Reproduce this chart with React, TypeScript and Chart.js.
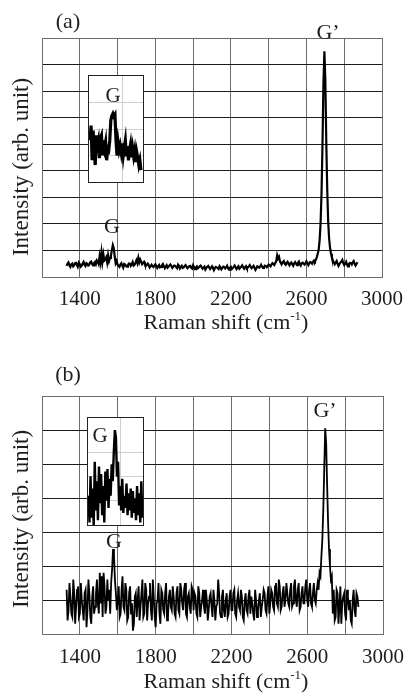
import React, { useEffect, useRef } from 'react';
import { Chart, registerables } from 'chart.js';

Chart.register(...registerables);

const SERIF = '"Liberation Serif", "Times New Roman", Times, serif';
const INK = '#1e1e1e';
const GRID_V = '#6c6c6c';
const GRID_H = '#1a1a1a';
const EDGE = '#6c6c6c';

// ---- x axis (Raman shift, cm^-1) ----
const X_MIN = 1200;
const X_MAX = 3000;
const X_STEP = 200;
const X_TICK_LABELS = [1400, 1800, 2200, 2600, 3000];

// ---- panel (a) spectrum (main samples) ----
const A_SHIFT = [
  1330, 1340, 1350, 1360, 1370, 1380, 1390, 1400, 1410, 1420, 1430, 1440, 1450, 1460, 1470,
  1480, 1490, 1500, 1505, 1510, 1515, 1520, 1525, 1530, 1540, 1545, 1550, 1555, 1560, 1565, 1570, 1575, 1580, 1585, 1590,
  1600, 1610, 1620, 1630, 1640, 1650, 1660, 1670, 1680, 1690, 1700, 1705, 1710, 1715, 1720, 1730, 1740, 1750, 1760, 1770, 1780, 1790, 1800,
  1810, 1820, 1830, 1840, 1850, 1860, 1870, 1880, 1890, 1900, 1910, 1920, 1930, 1940, 1950, 1960, 1970, 1980, 1990, 2000, 2010, 2020, 2030, 2040, 2050, 2060, 2070, 2080, 2090, 2100,
  2110, 2120, 2130, 2140, 2150, 2160, 2170, 2180, 2190, 2200, 2210, 2220, 2230, 2240, 2250, 2260, 2270, 2280, 2290, 2300, 2310, 2320, 2330, 2340, 2350, 2360, 2370, 2380, 2390, 2400, 2410, 2420, 2430, 2440,
  2445, 2450, 2460, 2470, 2480, 2490, 2500, 2510, 2520, 2530, 2540, 2550, 2560, 2570, 2580, 2590, 2600, 2610, 2620, 2630, 2640,
  2650, 2655, 2660, 2665, 2670, 2675, 2680, 2685, 2690, 2695, 2700, 2705, 2710, 2715, 2720, 2725, 2730, 2735, 2740,
  2750, 2760, 2770, 2780, 2790, 2800, 2810, 2820, 2830, 2840, 2850, 2860, 2870,
];
const A_INTENSITY = [
  0.42, 0.55, 0.38, 0.50, 0.44, 0.53, 0.40, 0.48, 0.43, 0.57, 0.41, 0.50, 0.46, 0.58, 0.44,
  0.56, 0.63, 0.49, 0.78, 0.56, 0.92, 0.58, 0.85, 0.62, 0.74, 0.55, 0.82, 0.60, 0.72, 0.80, 1.02, 1.20, 1.08, 0.78, 0.52,
  0.47, 0.38, 0.52, 0.35, 0.47, 0.39, 0.51, 0.42, 0.56, 0.46, 0.63, 0.52, 0.72, 0.55, 0.66, 0.48, 0.57, 0.42, 0.50, 0.36, 0.46, 0.37, 0.48,
  0.34, 0.45, 0.38, 0.49, 0.33, 0.44, 0.39, 0.47, 0.34, 0.43, 0.37, 0.46, 0.32, 0.42, 0.36, 0.45, 0.33, 0.41, 0.35, 0.44, 0.30, 0.40, 0.36, 0.43, 0.31, 0.39, 0.34, 0.42, 0.30, 0.40,
  0.26, 0.38, 0.33, 0.41, 0.29, 0.39, 0.32, 0.42, 0.28, 0.38, 0.34, 0.43, 0.30, 0.40, 0.35, 0.44, 0.31, 0.41, 0.36, 0.45, 0.33, 0.42, 0.27, 0.40, 0.35, 0.46, 0.34, 0.43, 0.37, 0.47, 0.40, 0.52, 0.45, 0.60,
  0.82, 0.70, 0.58, 0.50, 0.60, 0.46, 0.57, 0.44, 0.55, 0.42, 0.56, 0.45, 0.58, 0.43, 0.54, 0.47, 0.59, 0.45, 0.56, 0.50, 0.62,
  0.66, 0.75, 0.88, 1.05, 1.40, 2.05, 3.20, 5.00, 7.30, 8.50, 7.40, 5.10, 3.30, 2.10, 1.45, 1.10, 0.88, 0.72, 0.62,
  0.48, 0.60, 0.42, 0.55, 0.64, 0.45, 0.57, 0.40, 0.53, 0.47, 0.60, 0.43, 0.56,
];
// ---- panel (a) spectrum (in-between samples) ----
const A_SHIFT_MID = [
  1335, 1345, 1355, 1365, 1375, 1385, 1395, 1405, 1415, 1425, 1435, 1445, 1455, 1465, 1475, 1485, 1495,
  1535,
  1595, 1605, 1615, 1625, 1635, 1645, 1655, 1665, 1675, 1685, 1695,
  1725, 1735, 1745, 1755, 1765, 1775, 1785, 1795,
  1805, 1815, 1825, 1835, 1845, 1855, 1865, 1875, 1885, 1895,
  1905, 1915, 1925, 1935, 1945, 1955, 1965, 1975, 1985, 1995,
  2005, 2015, 2025, 2035, 2045, 2055, 2065, 2075, 2085, 2095,
  2105, 2115, 2125, 2135, 2145, 2155, 2165, 2175, 2185, 2195,
  2205, 2215, 2225, 2235, 2245, 2255, 2265, 2275, 2285, 2295,
  2305, 2315, 2325, 2335, 2345, 2355, 2365, 2375, 2385, 2395,
  2405, 2415, 2425, 2435,
  2455, 2465, 2475, 2485, 2495, 2505, 2515, 2525, 2535, 2545, 2555, 2565, 2575, 2585, 2595, 2605, 2615, 2625, 2635, 2645,
  2745, 2755, 2765, 2775, 2785, 2795, 2805, 2815, 2825, 2835, 2845, 2855, 2865,
];
const A_INTENSITY_MID = [
  0.50, 0.44, 0.47, 0.40, 0.52, 0.45, 0.54, 0.39, 0.51, 0.46, 0.52, 0.43, 0.55, 0.49, 0.52, 0.48, 0.58,
  0.66,
  0.60, 0.42, 0.47, 0.43, 0.49, 0.41, 0.45, 0.50, 0.48, 0.43, 0.54,
  0.58, 0.53, 0.47, 0.46, 0.44, 0.41, 0.40, 0.43,
  0.41, 0.40, 0.36, 0.44, 0.41, 0.38, 0.35, 0.43, 0.41, 0.39,
  0.42, 0.33, 0.40, 0.38, 0.34, 0.41, 0.39, 0.37, 0.42, 0.32,
  0.37, 0.36, 0.33, 0.40, 0.37, 0.35, 0.28, 0.39, 0.36, 0.35,
  0.34, 0.33, 0.36, 0.30, 0.36, 0.34, 0.37, 0.36, 0.33, 0.35,
  0.30, 0.38, 0.37, 0.35, 0.31, 0.39, 0.37, 0.36, 0.33, 0.40,
  0.38, 0.37, 0.35, 0.33, 0.38, 0.40, 0.39, 0.38, 0.41, 0.42,
  0.44, 0.47, 0.49, 0.53,
  0.76, 0.52, 0.56, 0.50, 0.53, 0.49, 0.52, 0.48, 0.51, 0.50, 0.53, 0.49, 0.52, 0.50, 0.52, 0.53, 0.51, 0.55, 0.57, 0.58,
  0.55, 0.54, 0.50, 0.49, 0.58, 0.52, 0.50, 0.47, 0.49, 0.52, 0.55, 0.50, 0.49,
];

// ---- panel (b) spectrum (main samples) ----
const B_SHIFT = [
  1330, 1340, 1350, 1360, 1370, 1380, 1390, 1400, 1410, 1420, 1430, 1440, 1450, 1460, 1470, 1480, 1490, 1500,
  1505, 1510, 1515, 1520, 1530, 1540, 1545, 1550, 1555, 1560, 1565, 1570, 1575, 1580, 1585, 1590, 1595, 1600,
  1610, 1620, 1630, 1640, 1650, 1660, 1670, 1680, 1690, 1700, 1710, 1720, 1730, 1740, 1750, 1760, 1770, 1780, 1790, 1800, 1810, 1820, 1830, 1840, 1850, 1860, 1870, 1880, 1890, 1900,
  1910, 1920, 1930, 1940, 1950, 1960, 1970, 1980, 1990, 2000, 2010, 2020, 2030, 2040, 2050, 2060, 2070, 2080, 2090, 2100, 2110, 2120, 2130, 2140, 2150, 2160, 2170, 2180, 2190, 2200,
  2210, 2220, 2230, 2240, 2250, 2260, 2270, 2280, 2290, 2300, 2310, 2320, 2330, 2340, 2350, 2360, 2370, 2380, 2390, 2400, 2410, 2420, 2430, 2440, 2450, 2460, 2470, 2480, 2490, 2500,
  2510, 2520, 2530, 2540, 2550, 2560, 2570, 2580, 2590, 2600, 2610, 2620, 2630, 2640, 2650,
  2655, 2660, 2665, 2670, 2675, 2680, 2685, 2690, 2695, 2700, 2705, 2710, 2715, 2720, 2725, 2730,
  2740, 2750, 2760, 2770, 2780, 2790, 2800, 2810, 2820, 2830, 2840, 2850, 2860, 2870,
];
const B_INTENSITY = [
  1.3, 0.7, 1.1, 0.5, 1.2, 0.8, 1.4, 0.6, 1.0, 0.4, 1.3, 0.7, 1.2, 0.3, 1.4, 0.8, 1.6, 0.6,
  1.8, 0.9, 1.7, 0.5, 1.4, 0.8, 1.6, 1.0, 1.3, 0.6, 1.5, 1.9, 2.5, 2.3, 1.6, 1.2, 0.7, 1.0,
  0.5, 1.3, 0.8, 1.5, 0.4, 1.2, 0.6, 0.1, 1.1, 0.5, 1.4, 0.8, 1.6, 0.6, 1.3, 0.9, 1.5, 0.4, 1.1, 0.2, 1.0, 0.6, 1.3, 0.7, 1.2, 0.4, 1.1, 0.8, 1.4, 0.6,
  1.2, 0.7, 1.5, 0.9, 1.3, 0.6, 1.1, 0.8, 1.4, 0.7, 1.1, 0.5, 1.2, 0.8, 1.3, 0.6, 1.0, 0.7, 1.2, 0.5, 1.0, 0.8, 1.6, 0.6, 1.1, 0.7, 1.0, 0.5, 1.1, 0.7,
  1.2, 0.6, 1.0, 0.8, 1.3, 0.5, 1.0, 0.7, 1.1, 0.6, 0.9, 0.4, 1.0, 0.7, 1.2, 0.8, 1.3, 0.7, 1.1, 0.6, 1.3, 0.8, 1.4, 0.9, 1.6, 0.7, 1.2, 0.8, 1.5, 0.9,
  1.3, 0.8, 1.4, 1.0, 1.3, 0.7, 1.2, 0.9, 1.4, 1.0, 1.3, 0.9, 1.2, 1.0, 1.3,
  1.5, 1.3, 1.8, 1.7, 2.3, 2.8, 3.7, 4.9, 6.05, 5.6, 4.4, 3.3, 2.5, 2.0, 1.6, 1.7,
  1.3, 0.5, 1.2, 0.8, 0.3, 1.1, 0.6, 1.3, 0.7, 0.4, 1.0, 0.7, 1.2, 0.8,
];
// ---- panel (b) spectrum (in-between samples) ----
const B_SHIFT_MID = [
  1335, 1345, 1355, 1365, 1375, 1385, 1395, 1405, 1415, 1425, 1435, 1445, 1455, 1465, 1475, 1485, 1495,
  1525, 1535,
  1605, 1615, 1625, 1635, 1645, 1655, 1665, 1675, 1685, 1695,
  1705, 1715, 1725, 1735, 1745, 1755, 1765, 1775, 1785, 1795,
  1805, 1815, 1825, 1835, 1845, 1855, 1865, 1875, 1885, 1895,
  1905, 1915, 1925, 1935, 1945, 1955, 1965, 1975, 1985, 1995,
  2005, 2015, 2025, 2035, 2045, 2055, 2065, 2075, 2085, 2095,
  2105, 2115, 2125, 2135, 2145, 2155, 2165, 2175, 2185, 2195,
  2205, 2215, 2225, 2235, 2245, 2255, 2265, 2275, 2285, 2295,
  2305, 2315, 2325, 2335, 2345, 2355, 2365, 2375, 2385, 2395,
  2405, 2415, 2425, 2435, 2445, 2455, 2465, 2475, 2485, 2495,
  2505, 2515, 2525, 2535, 2545, 2555, 2565, 2575, 2585, 2595,
  2605, 2615, 2625, 2635, 2645,
  2735,
  2745, 2755, 2765, 2775, 2785, 2795, 2805, 2815, 2825, 2835, 2845, 2855, 2865,
];
const B_INTENSITY_MID = [
  0.4, 1.5, 0.6, 1.6, 0.3, 1.3, 0.5, 1.5, 0.7, 1.2, 0.2, 1.6, 0.5, 1.1, 0.6, 1.2, 0.9,
  1.8, 0.6,
  1.4, 0.6, 1.7, 0.7, 1.3, 0.5, 1.4, 0.9, 0.3, 1.2,
  1.0, 0.4, 1.2, 0.5, 1.5, 0.4, 1.1, 0.7, 1.6, 0.5,
  0.9, 1.5, 0.3, 1.2, 0.6, 1.5, 0.5, 1.3, 0.7, 1.1,
  0.5, 1.4, 0.6, 1.3, 0.7, 1.5, 0.5, 1.2, 0.6, 1.3,
  1.2, 0.6, 1.4, 0.5, 1.0, 0.8, 1.3, 0.4, 1.1, 0.8,
  1.3, 0.4, 0.9, 1.2, 0.5, 1.3, 0.5, 1.2, 0.6, 1.3,
  0.7, 1.3, 0.5, 1.2, 0.7, 1.1, 0.4, 1.2, 0.6, 1.3,
  1.1, 0.6, 1.3, 0.5, 1.0, 0.5, 1.0, 1.2, 0.6, 1.4,
  0.9, 1.2, 0.7, 1.5, 0.8, 1.4, 0.8, 1.4, 1.0, 1.2,
  0.8, 1.5, 0.9, 1.6, 0.8, 1.5, 0.8, 1.4, 0.9, 1.6,
  0.8, 1.5, 0.8, 1.5, 0.9,
  0.6,
  0.4, 1.3, 0.3, 1.4, 0.9, 1.2, 0.4, 1.1, 1.0, 0.3, 1.3, 0.5, 1.1,
];

// ---- inset (a): G band close-up ----
const INSET_A_SHIFT = [
  1465, 1470, 1475, 1480, 1485, 1490, 1495, 1500, 1505, 1510, 1515, 1520, 1525, 1530, 1535, 1540, 1545, 1550, 1555, 1560,
  1565, 1570, 1575, 1580, 1585, 1590, 1595, 1600, 1605, 1610, 1615, 1620, 1625, 1630, 1635, 1640, 1645, 1650, 1655, 1660,
  1665, 1670, 1675, 1680, 1685, 1690, 1695, 1700, 1705, 1710,
];
const INSET_A_INTENSITY = [
  1.57, 2.13, 0.82, 1.94, 1.20, 0.64, 1.76, 1.38, 1.57, 0.90, 1.65, 1.76, 1.00, 1.57, 1.27, 1.50, 0.82, 1.27, 1.20, 1.57,
  2.32, 2.50, 2.58, 2.47, 2.54, 1.57, 1.00, 1.50, 1.20, 1.38, 1.12, 1.46, 1.00, 1.31, 1.57, 0.97, 1.35, 0.82, 1.20, 1.42,
  0.93, 1.27, 0.97, 1.20, 0.75, 1.12, 0.90, 0.64, 0.82, 0.45,
];

// ---- inset (b): G band close-up ----
const INSET_B_SHIFT = [
  1462, 1467, 1472, 1477, 1482, 1487, 1492, 1497, 1502, 1507, 1512, 1517, 1522, 1527, 1532, 1537, 1542, 1547, 1552, 1557,
  1562, 1567, 1572, 1577, 1582, 1587, 1592, 1597, 1602, 1607, 1612, 1617, 1622, 1627, 1632, 1637, 1642, 1647, 1652, 1657,
  1662, 1667, 1672, 1677, 1682, 1687, 1692, 1697, 1702, 1707, 1712, 1717,
];
const INSET_B_INTENSITY = [
  1.2, 0.1, 2.0, 0.3, 1.5, 0.0, 2.6, 0.6, 1.8, 0.2, 2.4, 0.9, 2.1, 0.4, 1.6, 0.1, 2.2, 1.0, 2.3, 0.7,
  1.9, 1.2, 2.5, 1.8, 3.0, 3.9, 3.6, 2.0, 2.6, 0.8, 1.6, 0.6, 1.9, 0.5, 1.2, 0.7, 1.7, 0.4, 1.3, 0.6,
  1.5, 0.3, 1.4, 0.5, 1.1, 0.2, 1.6, 0.4, 1.3, 0.1, 1.8, 0.3,
];

const Y_TITLE = 'Intensity (arb. unit)';
const X_TITLE_MAIN = 'Raman shift (cm';
const X_TITLE_SUP = '-1';
const X_TITLE_END = ')';

const TICK_FONT = 21;
const TITLE_FONT = 22;
const Y_TITLE_FONT = 23;
const LABEL_FONT = 22;

type Pt = [number, number];
interface InsetSpec {
  shift: number[];
  intensity: number[];
  xMin: number;
  xMax: number;
  yMax: number;
  xGrid: number[];
  yGrid: number[];
  left: number;
  top: number;
  width: number;
  height: number;
  lineWidth: number;
  gPos: Pt;
}
interface PanelSpec {
  shifts: number[][];
  intensities: number[][];
  yMax: number;
  top: number;
  right: number;
  xAxisHeight: number;
  tickPad: number;
  lineWidth: number;
  letter: string;
  letterPos: Pt;
  gPrimePos: Pt;
  gPos: Pt;
  yTitlePos: Pt;
  xTitlePos: Pt;
  inset: InsetSpec;
}

const PANEL_A: PanelSpec = {
  shifts: [A_SHIFT, A_SHIFT_MID],
  intensities: [A_INTENSITY, A_INTENSITY_MID],
  yMax: 9,
  top: 38,
  right: 26,
  xAxisHeight: 72,
  tickPad: 10,
  lineWidth: 2.2,
  letter: '(a)',
  letterPos: [68, 22],
  gPrimePos: [328, 33],
  gPos: [112, 227],
  yTitlePos: [22, 167],
  xTitlePos: [226, 322],
  inset: {
    shift: INSET_A_SHIFT,
    intensity: INSET_A_INTENSITY,
    xMin: 1460,
    xMax: 1720,
    yMax: 4,
    xGrid: [1620],
    yGrid: [1, 2, 3],
    left: 88,
    top: 75,
    width: 56,
    height: 108,
    lineWidth: 3.2,
    gPos: [24, 20],
  },
};

const PANEL_B: PanelSpec = {
  shifts: [B_SHIFT, B_SHIFT_MID],
  intensities: [B_INTENSITY, B_INTENSITY_MID],
  yMax: 7,
  top: 47,
  right: 25,
  xAxisHeight: 64,
  tickPad: 11,
  lineWidth: 1.8,
  letter: '(b)',
  letterPos: [68, 26],
  gPrimePos: [325, 62],
  gPos: [114, 193],
  yTitlePos: [22, 170],
  xTitlePos: [226, 332],
  inset: {
    shift: INSET_B_SHIFT,
    intensity: INSET_B_INTENSITY,
    xMin: 1460,
    xMax: 1720,
    yMax: 4.4,
    xGrid: [1615],
    yGrid: [1, 2, 3],
    left: 87,
    top: 68,
    width: 57,
    height: 109,
    lineWidth: 2.4,
    gPos: [12, 18],
  },
};

function text(ctx: CanvasRenderingContext2D, s: string, x: number, y: number, size = LABEL_FONT) {
  ctx.save();
  ctx.font = `${size}px ${SERIF}`;
  ctx.fillStyle = INK;
  ctx.textAlign = 'center';
  ctx.textBaseline = 'middle';
  ctx.fillText(s, x, y);
  ctx.restore();
}

function spectrumPoints(shifts: number[][], intensities: number[][]) {
  const pts: { x: number; y: number }[] = [];
  shifts.forEach((arr, k) => arr.forEach((x, i) => pts.push({ x, y: intensities[k][i] })));
  return pts.sort((p, q) => p.x - q.x);
}

function mainConfig(p: PanelSpec): any {
  const labels = {
    id: 'panelText',
    afterDraw(chart: any) {
      const ctx: CanvasRenderingContext2D = chart.ctx;
      text(ctx, p.letter, p.letterPos[0], p.letterPos[1]);
      text(ctx, 'G\u2019', p.gPrimePos[0], p.gPrimePos[1]);
      text(ctx, 'G', p.gPos[0], p.gPos[1]);
      ctx.save();
      ctx.translate(p.yTitlePos[0], p.yTitlePos[1]);
      ctx.rotate(-Math.PI / 2);
      text(ctx, Y_TITLE, 0, 0, Y_TITLE_FONT);
      ctx.restore();
      ctx.save();
      ctx.fillStyle = INK;
      ctx.textAlign = 'left';
      ctx.textBaseline = 'alphabetic';
      const supSize = Math.round(TITLE_FONT * 0.6);
      ctx.font = `${TITLE_FONT}px ${SERIF}`;
      const w1 = ctx.measureText(X_TITLE_MAIN).width;
      const w3 = ctx.measureText(X_TITLE_END).width;
      ctx.font = `${supSize}px ${SERIF}`;
      const w2 = ctx.measureText(X_TITLE_SUP).width;
      let x = p.xTitlePos[0] - (w1 + w2 + w3) / 2;
      const base = p.xTitlePos[1] + 7;
      ctx.font = `${TITLE_FONT}px ${SERIF}`;
      ctx.fillText(X_TITLE_MAIN, x, base);
      x += w1;
      ctx.font = `${supSize}px ${SERIF}`;
      ctx.fillText(X_TITLE_SUP, x, base - 9);
      x += w2;
      ctx.font = `${TITLE_FONT}px ${SERIF}`;
      ctx.fillText(X_TITLE_END, x, base);
      ctx.restore();
    },
  };
  return {
    type: 'line',
    data: {
      datasets: [
        {
          data: spectrumPoints(p.shifts, p.intensities),
          borderColor: '#000',
          borderWidth: p.lineWidth,
          pointRadius: 0,
          tension: 0,
          fill: false,
        },
      ],
    },
    options: {
      animation: false,
      responsive: false,
      events: [],
      layout: { padding: { top: p.top, right: p.right, left: 0, bottom: 0 } },
      plugins: { legend: { display: false }, tooltip: { enabled: false } },
      scales: {
        x: {
          type: 'linear',
          min: X_MIN,
          max: X_MAX,
          afterFit: (s: any) => {
            s.height = p.xAxisHeight;
            s.paddingLeft = 0;
            s.paddingRight = 0;
          },
          ticks: {
            stepSize: X_STEP,
            autoSkip: false,
            maxRotation: 0,
            minRotation: 0,
            padding: p.tickPad,
            color: INK,
            font: { family: SERIF, size: TICK_FONT },
            callback: (v: any) => (X_TICK_LABELS.includes(Number(v)) ? String(v) : ''),
          },
          grid: { color: GRID_V, lineWidth: 1, drawTicks: false },
          border: { display: true, color: EDGE, width: 1 },
        },
        y: {
          type: 'linear',
          min: 0,
          max: p.yMax,
          afterFit: (s: any) => {
            s.width = 42;
            s.paddingTop = 0;
            s.paddingBottom = 0;
          },
          ticks: { display: false, stepSize: 1 },
          grid: {
            drawTicks: false,
            lineWidth: 1,
            color: (c: any) =>
              c.tick && (c.tick.value === 0 || c.tick.value === p.yMax) ? EDGE : GRID_H,
          },
          border: { display: true, color: EDGE, width: 1 },
        },
      },
    },
    plugins: [labels],
  };
}

function insetConfig(s: InsetSpec): any {
  const label = {
    id: 'insetText',
    afterDraw(chart: any) {
      text(chart.ctx, 'G', s.gPos[0], s.gPos[1], 21);
    },
  };
  return {
    type: 'line',
    data: {
      datasets: [
        {
          data: s.shift.map((x, i) => ({ x, y: s.intensity[i] })),
          borderColor: '#000',
          borderWidth: s.lineWidth,
          pointRadius: 0,
          tension: 0,
          fill: false,
        },
      ],
    },
    options: {
      animation: false,
      responsive: false,
      events: [],
      layout: { padding: 0 },
      plugins: { legend: { display: false }, tooltip: { enabled: false } },
      scales: {
        x: {
          type: 'linear',
          min: s.xMin,
          max: s.xMax,
          afterFit: (sc: any) => {
            sc.height = 0;
            sc.paddingLeft = 0;
            sc.paddingRight = 0;
          },
          afterBuildTicks: (sc: any) => {
            sc.ticks = s.xGrid.map((value) => ({ value }));
          },
          ticks: { display: false },
          grid: { color: '#cfcfcf', drawTicks: false, lineWidth: 1 },
          border: { display: false },
        },
        y: {
          type: 'linear',
          min: 0,
          max: s.yMax,
          afterFit: (sc: any) => {
            sc.width = 0;
            sc.paddingTop = 0;
            sc.paddingBottom = 0;
          },
          afterBuildTicks: (sc: any) => {
            sc.ticks = s.yGrid.map((value) => ({ value }));
          },
          ticks: { display: false },
          grid: { color: '#cfcfcf', drawTicks: false, lineWidth: 1 },
          border: { display: false },
        },
      },
    },
    plugins: [label],
  };
}

function Panel({ spec, top }: { spec: PanelSpec; top: number }) {
  const mainRef = useRef<HTMLCanvasElement>(null);
  const insetRef = useRef<HTMLCanvasElement>(null);
  useEffect(() => {
    const charts: Chart[] = [];
    if (mainRef.current) charts.push(new Chart(mainRef.current, mainConfig(spec)));
    if (insetRef.current) charts.push(new Chart(insetRef.current, insetConfig(spec.inset)));
    return () => charts.forEach((c) => c.destroy());
  }, [spec]);
  const ins = spec.inset;
  return (
    <div style={{ position: 'absolute', left: 0, top, width: 408, height: 349 }}>
      <canvas ref={mainRef} width={408} height={349} style={{ position: 'absolute', left: 0, top: 0 }} />
      <div
        style={{
          position: 'absolute',
          left: ins.left,
          top: ins.top,
          width: ins.width,
          height: ins.height,
          boxSizing: 'border-box',
          border: '1px solid #222',
          background: '#fff',
        }}
      >
        <canvas ref={insetRef} width={ins.width - 2} height={ins.height - 2} style={{ display: 'block' }} />
      </div>
    </div>
  );
}

export default function App() {
  return (
    <div style={{ position: 'absolute', left: 0, top: 0, width: 408, height: 698, background: '#fff', overflow: 'hidden' }}>
      <Panel spec={PANEL_A} top={0} />
      <Panel spec={PANEL_B} top={349} />
    </div>
  );
}
